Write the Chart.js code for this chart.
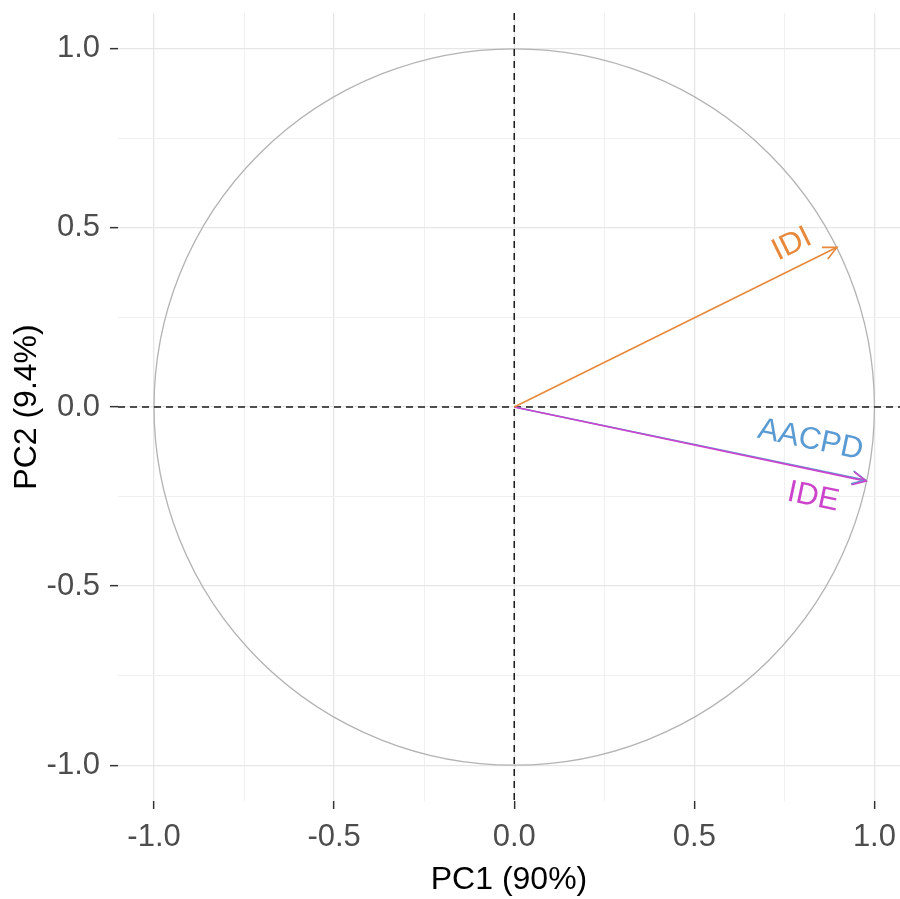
<!DOCTYPE html>
<html>
<head>
<meta charset="utf-8">
<script src="https://cdn.jsdelivr.net/npm/chart.js@4/dist/chart.umd.min.js"></script>
<style>
  html, body { margin: 0; padding: 0; background: #fff; }
  #wrap { width: 900px; height: 899px; }
</style>
</head>
<body>
<div id="wrap"><canvas id="Chart"></canvas></div>
<script>
// variables (arrow ends)
const varNames = ['AACPD', 'IDE', 'IDI'];
const pc1 = [0.975, 0.977, 0.896];
const pc2 = [-0.204, -0.207, 0.446];
const varColors = ['#5A9BD3', '#CC44CC', '#E8883A'];
const drawOrder = [2, 1, 0];   // IDE drawn over AACPD

// tick labels shown on both axes
const tickValues = [-1.0, -0.5, 0.0, 0.5, 1.0];

const TICK_FONT = { family: 'Liberation Sans, Arial, sans-serif', size: 31 };
const TITLE_FONT = { family: 'Liberation Sans, Arial, sans-serif', size: 32 };

function isMajor(v) {
    return tickValues.some(t => Math.abs(t - v) < 1e-6);
}

// circle + dashed zero lines, behind the arrows
const circlePlugin = {
    id: 'circlePlugin',
    beforeDatasetsDraw(chart) {
        const ctx = chart.ctx;
        const x = chart.scales.x, y = chart.scales.y;
        const cx = x.getPixelForValue(0), cy = y.getPixelForValue(0);
        const rx = x.getPixelForValue(1) - cx, ry = cy - y.getPixelForValue(1);
        const a = chart.chartArea;
        ctx.save();
        ctx.beginPath();
        ctx.rect(a.left, a.top, a.right - a.left, a.bottom - a.top);
        ctx.clip();
        ctx.strokeStyle = '#b3b3b3';
        ctx.lineWidth = 1.3;
        ctx.beginPath();
        ctx.ellipse(cx, cy, rx, ry, 0, 0, Math.PI * 2);
        ctx.stroke();
        ctx.strokeStyle = '#1a1a1a';
        ctx.lineWidth = 1.5;
        ctx.setLineDash([7, 5]);
        ctx.beginPath();
        ctx.moveTo(a.left, cy); ctx.lineTo(a.right, cy);
        ctx.moveTo(cx, a.top); ctx.lineTo(cx, a.bottom);
        ctx.stroke();
        ctx.restore();
    }
};

// arrow heads and rotated labels
const labelOffsets = [[-55, -40], [-53, 16], [-45, -3]];
const arrowPlugin = {
    id: 'arrowPlugin',
    afterDatasetsDraw(chart) {
        const ctx = chart.ctx;
        chart.data.datasets.forEach((ds, i) => {
            const pts = chart.getDatasetMeta(i).data;
            const p0 = pts[0], p1 = pts[1];
            const ang = Math.atan2(p1.y - p0.y, p1.x - p0.x);
            const len = 15, spread = Math.PI / 7;
            ctx.save();
            ctx.strokeStyle = ds.borderColor;
            ctx.lineWidth = 1.6;
            ctx.beginPath();
            ctx.moveTo(p1.x - len * Math.cos(ang - spread), p1.y - len * Math.sin(ang - spread));
            ctx.lineTo(p1.x, p1.y);
            ctx.lineTo(p1.x - len * Math.cos(ang + spread), p1.y - len * Math.sin(ang + spread));
            ctx.stroke();
            // label
            const off = labelOffsets[i];
            ctx.translate(p1.x + off[0], p1.y + off[1]);
            ctx.rotate(ang);
            ctx.fillStyle = ds.borderColor;
            ctx.font = '31px "Liberation Sans", Arial, sans-serif';
            ctx.textAlign = 'center';
            ctx.textBaseline = 'middle';
            ctx.fillText(ds.label, 0, 0);
            ctx.restore();
        });
    }
};

const datasets = varNames.map((name, i) => ({
    label: name,
    data: [{ x: 0, y: 0 }, { x: pc1[i], y: pc2[i] }],
    borderColor: varColors[i],
    backgroundColor: varColors[i],
    borderWidth: 1.6,
    showLine: true,
    pointRadius: 0,
    tension: 0,
    order: drawOrder[i]
}));

function axisCommon(title, isX) {
    return {
        type: 'linear',
        ticks: {
            stepSize: 0.25,
            autoSkip: false,
            maxRotation: 0,
            color: '#4d4d4d',
            font: TICK_FONT,
            padding: isX ? 10 : 10,
            callback: v => isMajor(v) ? v.toFixed(1) : ''
        },
        afterBuildTicks: scale => {
            scale.ticks = [];
            for (let k = -4; k <= 4; k++) scale.ticks.push({ value: k * 0.25 });
        },
        grid: {
            color: ctx => isMajor(ctx.tick.value) ? '#e6e6e6' : '#f0f0f0',
            lineWidth: ctx => isMajor(ctx.tick.value) ? 1.3 : 1,
            tickColor: ctx => isMajor(ctx.tick.value) ? '#333333' : 'rgba(0,0,0,0)',
            tickLength: 8,
            tickWidth: 1.5,
            drawTicks: true
        },
        border: { display: false },
        title: {
            display: true,
            text: title,
            color: '#000',
            font: TITLE_FONT,
            padding: isX ? { top: 0, bottom: 0 } : { top: 8, bottom: 0 }
        }
    };
}

const xAxis = axisCommon('PC1 (90%)', true);
xAxis.min = -1.1; xAxis.max = 1.071;
xAxis.afterFit = s => { s.height = 98; s.paddingLeft = 0; s.paddingRight = 0; };
const yAxis = axisCommon('PC2 (9.4%)', false);
yAxis.min = -1.1; yAxis.max = 1.1;
yAxis.afterFit = s => { s.width = 118; s.paddingTop = 0; s.paddingBottom = 0; };

const chart = new Chart(document.getElementById('Chart').getContext('2d'), {
    type: 'scatter',
    data: { datasets: datasets },
    options: {
        responsive: true,
        maintainAspectRatio: false,
        animation: false,
        layout: { padding: { top: 13, right: 0, left: 0, bottom: 0 } },
        plugins: { legend: { display: false }, tooltip: { enabled: false } },
        scales: { x: xAxis, y: yAxis }
    },
    plugins: [circlePlugin, arrowPlugin]
});
</script>
</body>
</html>
